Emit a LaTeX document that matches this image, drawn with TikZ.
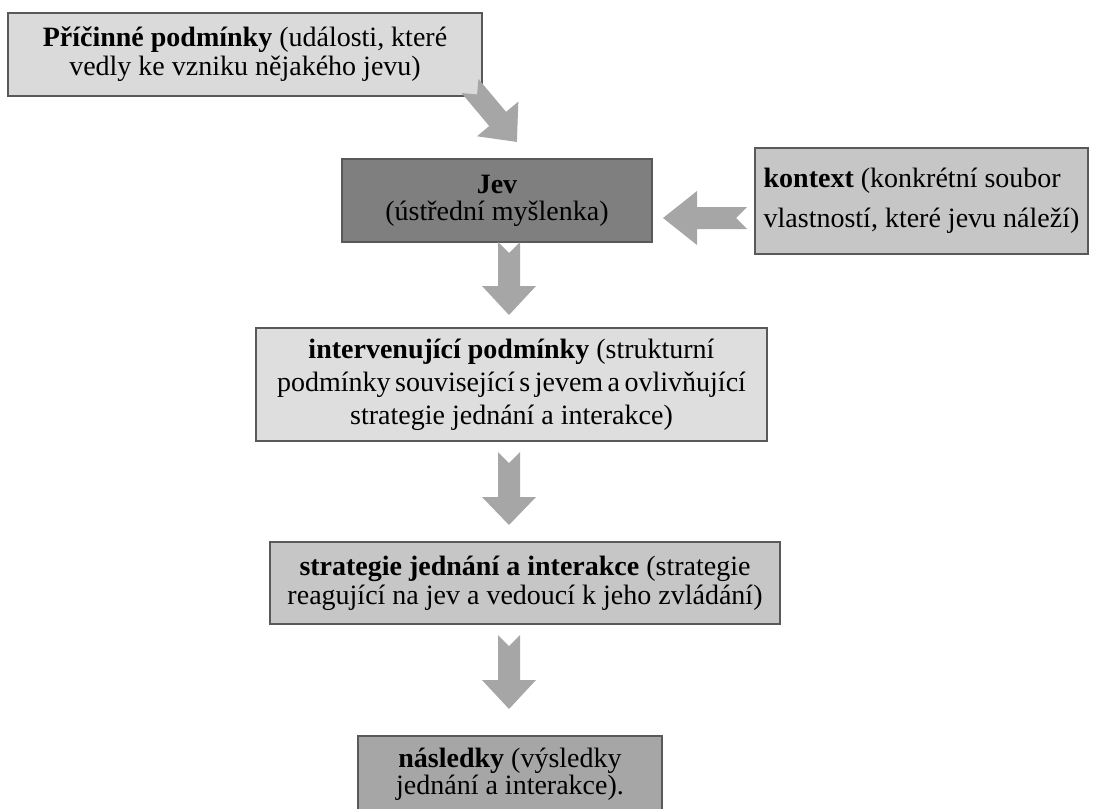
\documentclass[tikz,border=0pt]{standalone}
\usepackage{fontspec}
\setmainfont{Liberation Serif}
\begin{document}
\begin{tikzpicture}[x=1pt,y=-1pt]
  \definecolor{edge}{HTML}{595959}
  \definecolor{fillA}{HTML}{DADADA}
  \definecolor{fillB}{HTML}{7F7F7F}
  \definecolor{fillC}{HTML}{C6C6C6}
  \definecolor{fillD}{HTML}{DEDEDE}
  \definecolor{fillE}{HTML}{A6A6A6}
  \definecolor{arrowgray}{HTML}{A6A6A6}
  \tikzset{
    box/.style={draw=edge, line width=1.5pt, inner sep=0pt, align=center,
      font=\fontsize{28}{29}\selectfont},
    plain/.style={inner sep=0pt, align=center, font=\fontsize{28}{27}\selectfont},
    % notched block arrow along +x: length, head length
    pics/notched/.style 2 args={code={
      \fill[arrowgray] (0,-11) -- (#1-#2,-11) -- (#1-#2,-27) -- (#1,0)
        -- (#1-#2,27) -- (#1-#2,11) -- (0,11) -- (11,0) -- cycle;
    }},
  }
  \clip (0,0) rectangle (1093,809);

  % boxes
  \node[box, fill=fillA, minimum width=474pt, minimum height=83pt] (cause) at (245,54.5)
    {\textbf{Příčinné podmínky} (události, které\\vedly ke vzniku nějakého jevu)};
  \node[box, fill=fillB, minimum width=310pt, minimum height=83pt,
        font=\fontsize{28}{27}\selectfont] (jev) at (497,200.5)
    {\textbf{Jev}\\(ústřední myšlenka)};
  \node[box, fill=fillC, minimum width=333pt, minimum height=106pt, align=left,
        font=\fontsize{28}{40}\selectfont] (kontext) at (921.5,201)
    {\textbf{kontext} (konkrétní soubor\\vlastností, které jevu náleží)};
  \node[box, fill=fillD, minimum width=511pt, minimum height=113pt,
        font=\fontsize{28}{33}\selectfont] (interv) at (511.5,384.5)
    {\textbf{intervenující podmínky} (strukturní\\{\spaceskip=0.16em plus 0.05em\relax podmínky související s jevem a ovlivňující}\\strategie jednání a interakce)};
  \node[box, fill=fillC, minimum width=510pt, minimum height=82pt] (strat) at (525,583)
    {\textbf{strategie jednání a interakce} (strategie\\reagující na jev a vedoucí k jeho zvládání)};
  \node[box, fill=fillE, minimum width=304pt, minimum height=110pt, anchor=north] (nasl) at (510,735) {};
  \node[plain, anchor=north] (nasltext) at ([yshift=-13pt]nasl.north)
    {\textbf{následky} (výsledky\\jednání a interakce).};

  % arrow tails
  \coordinate (tcause) at (470,86);
  \coordinate (tkontext) at (747,218);
  \coordinate (tjev) at (509,242);
  \coordinate (tinterv) at (509,452);
  \coordinate (tstrat) at (509,635);

  % block arrows
  \pic[rotate=-50] at (tcause) {notched={73}{30}};
  \pic[rotate=180] at (tkontext) {notched={84}{34}};
  \pic[rotate=-90] at (tjev) {notched={73}{29}};
  \pic[rotate=-90] at (tinterv) {notched={73}{28}};
  \pic[rotate=-90] at (tstrat) {notched={74}{29}};
\end{tikzpicture}
\end{document}
